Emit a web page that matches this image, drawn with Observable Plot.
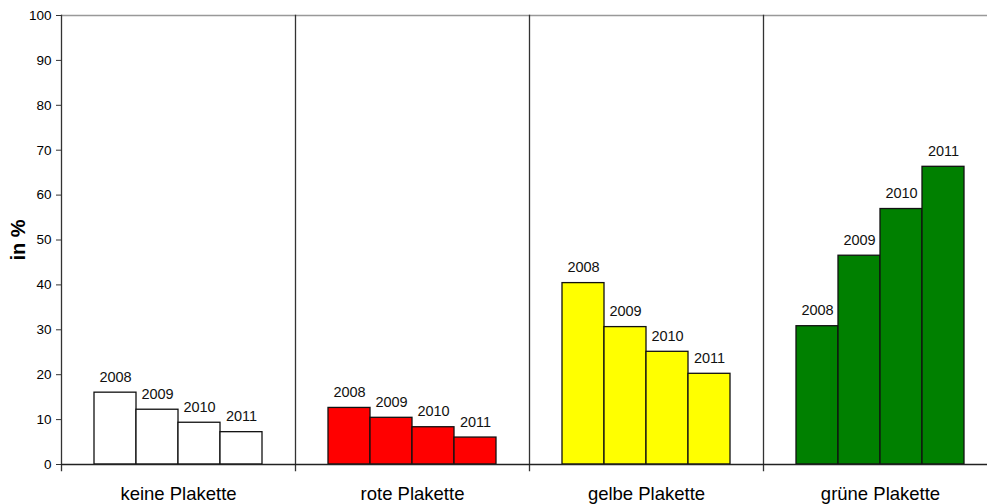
<!DOCTYPE html>
<html>
<head>
<meta charset="utf-8">
<script src="https://cdn.jsdelivr.net/npm/d3@7"></script>
<script src="https://cdn.jsdelivr.net/npm/@observablehq/plot@0.6"></script>
<style>
  html, body { margin: 0; padding: 0; background: #fff; overflow: hidden; }
  #chart { width: 987px; height: 504px; overflow: hidden; }
  #chart svg { max-width: none !important; width: 998px !important; height: 504px !important; }
  g[aria-label="y-axis label"] text { font-weight: bold; font-size: 20px; fill: #000; }
</style>
</head>
<body>
<div id="chart"></div>
<script>
// Share of vehicles by emission sticker, 2008–2011 (in %)
const categories = ["keine Plakette", "rote Plakette", "gelbe Plakette", "grüne Plakette"];
const years = ["2008", "2009", "2010", "2011"];
const keine = [16.0, 12.2, 9.3, 7.2];
const rote = [12.6, 10.4, 8.3, 6.0];
const gelbe = [40.4, 30.6, 25.1, 20.2];
const gruene = [30.8, 46.5, 56.9, 66.3];
const colors = ["#ffffff", "#ff0000", "#ffff00", "#008000"];
const yTicks = [0, 10, 20, 30, 40, 50, 60, 70, 80, 90, 100];

const series = [keine, rote, gelbe, gruene];
const data = categories.flatMap((cat, i) =>
  years.map((year, j) => ({cat, year, value: series[i][j]}))
);

const chart = Plot.plot({
  width: 998,
  height: 504,
  marginLeft: 60,
  marginRight: 0,
  marginTop: 15,
  marginBottom: 40,
  style: {fontFamily: "'Liberation Sans', Arial, sans-serif", color: "#000", background: "#fff"},
  fx: {domain: categories, padding: 0},
  x: {domain: years, paddingInner: 0, paddingOuter: 0.745},
  y: {domain: [0, 100]},
  color: {domain: categories, range: colors},
  marks: [
    Plot.ruleY([100], {stroke: "#999", strokeWidth: 1.3}),
    Plot.frame({anchor: "left", stroke: "#333", strokeWidth: 1.3, insetBottom: -6}),
    Plot.barY(data, {fx: "cat", x: "year", y: "value", fill: "cat", stroke: "#111", strokeWidth: 1.3}),
    Plot.text(data, {fx: "cat", x: "year", y: "value", text: "year", dy: -11, lineAnchor: "bottom", fontSize: 14.5, fill: "#111"}),
    Plot.ruleY([0], {stroke: "#222", strokeWidth: 1.3}),
    Plot.axisY({ticks: yTicks, tickFormat: d => String(d), tickSize: 5, tickPadding: 5, fontSize: 13.5,
      label: "in %", labelAnchor: "center", labelArrow: "none", labelOffset: 51, stroke: "#333"}),
    Plot.axisX({ticks: [], label: null}),
    Plot.axisFx({anchor: "bottom", tickSize: 0, tickPadding: 22, fontSize: 18.5, label: null})
  ]
});

document.getElementById("chart").appendChild(chart);
</script>
</body>
</html>
